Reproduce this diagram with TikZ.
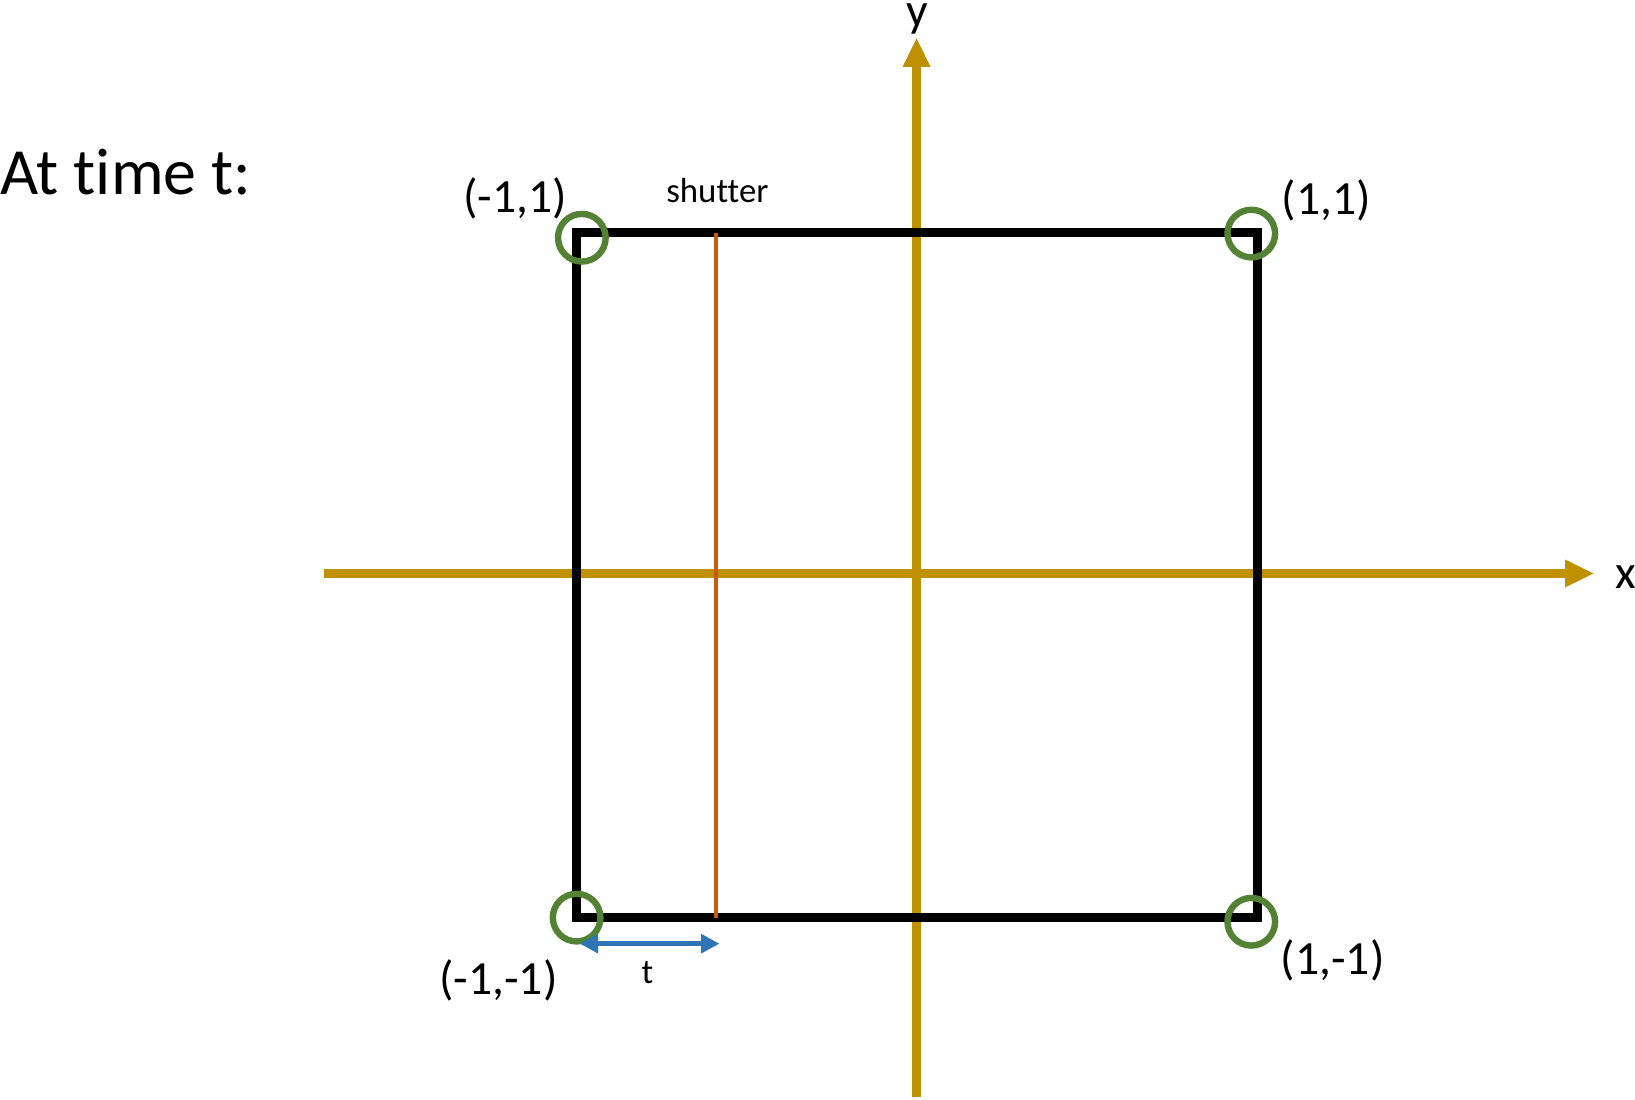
\documentclass[tikz,border=0pt]{standalone}
\usepackage{fontspec}
\setmainfont{Carlito}[Ligatures={NoCommon}]
\usetikzlibrary{arrows.meta}
\definecolor{axisc}{RGB}{191,144,0}
\definecolor{ringc}{RGB}{84,130,53}
\definecolor{shutc}{RGB}{197,90,17}
\definecolor{arrc}{RGB}{46,117,182}
\begin{document}
\begin{tikzpicture}[x=0.02cm,y=-0.02cm,
  axis/.style={axisc,line width=4.5pt,-{Triangle[length=16pt,width=14pt]}},
  ring/.style={circle,draw=ringc,line width=3.5pt,minimum size=26pt,inner sep=0pt},
  lbl/.style={inner sep=0pt,font=\fontsize{26}{30}\selectfont}]
\useasboundingbox (0,0) rectangle (1568,1054);
\coordinate (ybot) at (879,1052); \coordinate (ytop) at (879,36);
\coordinate (xl) at (311,550); \coordinate (xr) at (1529,550);
\draw[axis] (ybot) -- (ytop);
\draw[axis] (xl) -- (xr);
\node[lbl] (ylab) at (880,18) {y};
\node[lbl] (xlab) at (1559,553) {x};
\draw[line width=5pt] (553,223) rectangle (1206,880);
\coordinate (st) at (687,223); \coordinate (sb) at (687,880);
\draw[shutc,line width=2.2pt] (st) -- (sb);
\node[inner sep=0pt,font=\fontsize{19}{22}\selectfont] (sh) at (688,183) {shutter};
\node[ring] (c1) at (558,228) {};
\node[ring] (c2) at (1200,224) {};
\node[ring] (c3) at (553,880) {};
\node[ring] (c4) at (1200,884) {};
\node[lbl] (l1) at (494,190) {(-1,1)};
\node[lbl] (l2) at (1272,192) {(1,1)};
\node[lbl] (l3) at (478,940) {(-1,-1)};
\node[lbl] (l4) at (1278,921) {(1,-1)};
\coordinate (ta) at (556,905); \coordinate (tb) at (690,905);
\draw[arrc,line width=2.5pt,{Triangle[length=10pt,width=10pt]}-{Triangle[length=10pt,width=10pt]}] (ta) -- (tb);
\node[inner sep=0pt,font=\fontsize{19}{22}\selectfont] (tl) at (621,933) {t};
\node[inner sep=0pt,font=\fontsize{36}{40}\selectfont,anchor=west] (title) at (0,165) {At time t:};
\end{tikzpicture}
\end{document}
